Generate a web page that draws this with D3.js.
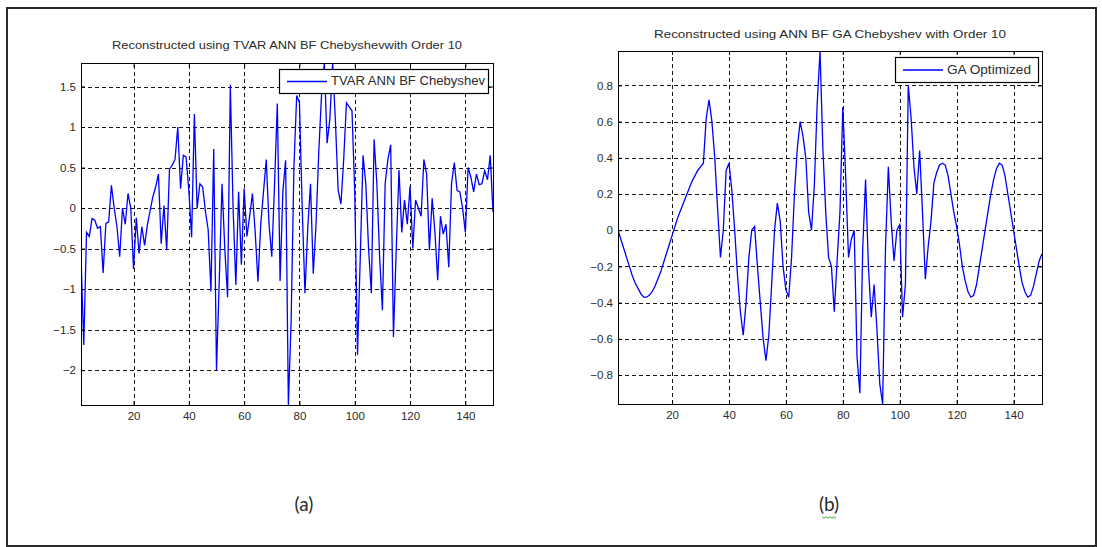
<!DOCTYPE html>
<html>
<head>
<meta charset="utf-8">
<script src="https://cdn.jsdelivr.net/npm/d3@7/dist/d3.min.js"></script>
<style>
  body { margin: 0; background: #fff; }
  svg text { font-family: "Liberation Sans", Arial, Helvetica, sans-serif; fill: #2b2b2b; }
</style>
</head>
<body>
<svg id="fig" width="1102" height="547"></svg>
<script>
// Sample positions shared by both reconstructions
const sampleIndex = d3.range(1, 151);
const xTicks = [20, 40, 60, 80, 100, 120, 140];

// (a) TVAR ANN BF Chebyshev reconstruction
const tvarValues = [
  -0.6, -1.69, -0.3, -0.35, -0.13, -0.15, -0.25, -0.23, -0.8, -0.19,
  -0.17, 0.28, 0.0, -0.23, -0.6, 0.0, -0.2, 0.18, 0.0, -0.75,
  -0.12, -0.56, -0.23, -0.46, -0.21, -0.03, 0.14, 0.26, 0.42, -0.44,
  0.03, -0.52, 0.48, 0.53, 0.6, 1.0, 0.24, 0.65, 0.63, 0.22,
  -0.36, 1.16, 0.0, 0.3, 0.26, -0.04, -0.27, -1.03, 0.73, -2.0,
  -0.9, 0.3, -0.5, -1.1, 1.52, 0.0, -0.95, 0.2, -0.7, 0.24,
  -0.35, -0.1, 0.18, -0.3, -0.91, -0.2, 0.2, 0.6, -0.2, -0.6,
  0.3, 1.29, -0.9, 0.2, 0.59, -2.43, -1.38, 0.5, 1.39, 1.3,
  0.0, -1.05, -0.25, 0.3, -0.81, -0.2, 0.7, 1.4, 1.79, 0.8,
  1.1, 1.79, 1.08, 0.22, 0.05, 0.6, 1.3, 1.25, 1.2, 0.2,
  -1.81, -0.6, 0.65, 0.3, -0.5, -1.05, 0.85, 0.3, -0.6, -1.26,
  0.3, 0.6, 0.78, -1.59, -0.52, 0.47, -0.3, 0.1, -0.2, 0.27,
  -0.5, 0.1, 0.0, -0.1, 0.6, 0.42, -0.52, 0.12, -0.3, -0.89,
  -0.1, -0.32, -0.2, -0.73, 0.3, 0.56, 0.22, 0.2, 0.0, -0.3,
  0.5, 0.38, 0.2, 0.42, 0.29, 0.3, 0.46, 0.35, 0.65, -0.05
];
const tvarTicks = [-2, -1.5, -1, -0.5, 0, 0.5, 1, 1.5];

// (b) GA-optimised ANN BF Chebyshev reconstruction
const gaValues = [
  0.0, -0.05, -0.1, -0.15, -0.2, -0.25, -0.29, -0.32, -0.35, -0.37,
  -0.37, -0.36, -0.34, -0.31, -0.27, -0.23, -0.18, -0.13, -0.08, -0.03,
  0.02, 0.07, 0.11, 0.15, 0.19, 0.23, 0.27, 0.3, 0.33, 0.35,
  0.37, 0.62, 0.72, 0.6, 0.4, 0.12, -0.15, 0.0, 0.33, 0.37,
  0.22, 0.0, -0.25, -0.45, -0.58, -0.4, -0.15, 0.0, 0.02, -0.2,
  -0.4, -0.6, -0.72, -0.58, -0.3, 0.0, 0.15, 0.05, -0.2, -0.33,
  -0.37, -0.15, 0.2, 0.45, 0.6, 0.52, 0.4, 0.1, 0.0, 0.25,
  0.7, 0.99, 0.45, 0.1, -0.15, -0.2, -0.45, -0.17, 0.1, 0.68,
  0.3, -0.15, -0.05, 0.0, -0.7, -0.9, -0.1, 0.28, -0.2, -0.48,
  -0.3, -0.55, -0.85, -0.96, -0.1, 0.35, 0.05, -0.17, 0.0, 0.03,
  -0.48, -0.3, 0.8, 0.62, 0.35, 0.2, 0.44, 0.1, -0.27, -0.09,
  0.05, 0.26, 0.32, 0.36, 0.37, 0.36, 0.3, 0.2, 0.1, 0.02,
  -0.08, -0.2, -0.28, -0.34, -0.37, -0.36, -0.3, -0.2, -0.1, 0.0,
  0.1, 0.2, 0.28, 0.34, 0.37, 0.36, 0.3, 0.2, 0.1, 0.0,
  -0.1, -0.2, -0.29, -0.34, -0.37, -0.36, -0.31, -0.24, -0.17, -0.13
];
const gaTicks = [-0.8, -0.6, -0.4, -0.2, 0, 0.2, 0.4, 0.6, 0.8];

const panels = [
  {
    id: "a", values: tvarValues, yTicks: tvarTicks,
    box: { left: 81, right: 493, top: 63, bottom: 405 },
    title: "Reconstructed using  TVAR ANN BF Chebyshevwith Order 10",
    titleY: 46, titleWidth: 350,
    legend: { label: "TVAR ANN BF Chebyshev", x: 279, y: 69, w: 209, h: 24, textWidth: 154 },
    caption: "(a)", captionX: 304
  },
  {
    id: "b", values: gaValues, yTicks: gaTicks,
    box: { left: 618, right: 1042, top: 51, bottom: 404 },
    title: "Reconstructed using ANN BF GA Chebyshev with Order 10",
    titleY: 35, titleWidth: 352,
    legend: { label: "GA Optimized", x: 895, y: 57, w: 143, h: 25, textWidth: 84 },
    caption: "(b)", captionX: 829
  }
];

const svg = d3.select("#fig");

// outer frame around both figures
svg.append("rect")
  .attr("x", 7).attr("y", 8).attr("width", 1089).attr("height", 538)
  .attr("fill", "#fff").attr("stroke", "#2a2a2a").attr("stroke-width", 2);

panels.forEach(p => {
  const b = p.box;
  const x = d3.scaleLinear().domain([1, 150]).range([b.left, b.right]);
  const y = d3.scaleLinear().domain(d3.extent(p.values)).range([b.bottom, b.top]);
  const g = svg.append("g").attr("class", "panel-" + p.id);

  // dotted grid
  const grid = g.append("g").attr("stroke", "#1a1a1a").attr("stroke-width", 1)
    .attr("stroke-dasharray", "4,3").attr("shape-rendering", "crispEdges");
  grid.selectAll("line.gx").data(xTicks).join("line")
    .attr("x1", d => Math.round(x(d)) + 0.5).attr("x2", d => Math.round(x(d)) + 0.5)
    .attr("y1", b.bottom).attr("y2", b.top);
  grid.selectAll("line.gy").data(p.yTicks).join("line")
    .attr("y1", d => Math.round(y(d)) + 0.5).attr("y2", d => Math.round(y(d)) + 0.5)
    .attr("x1", b.left).attr("x2", b.right);

  // series
  const clipId = "clip-" + p.id;
  g.append("clipPath").attr("id", clipId).append("rect")
    .attr("x", b.left).attr("y", b.top).attr("width", b.right - b.left).attr("height", b.bottom - b.top);
  const line = d3.line().x((d, i) => x(sampleIndex[i])).y(d => y(d));
  g.append("path").datum(p.values)
    .attr("clip-path", `url(#${clipId})`)
    .attr("fill", "none").attr("stroke", "#0000ff").attr("stroke-width", 1.3)
    .attr("stroke-linejoin", "miter").attr("d", line);

  // axes with inward ticks on all four sides
  const tickStyle = sel => {
    sel.select(".domain").remove();
    sel.selectAll(".tick line").attr("stroke", "#000");
    sel.selectAll(".tick text").style("font-size", "11.5px").attr("fill", "#2b2b2b");
  };
  g.append("g").attr("transform", `translate(0,${b.bottom})`)
    .call(d3.axisBottom(x).tickValues(xTicks).tickSize(-4).tickPadding(7).tickFormat(d3.format("d")))
    .call(tickStyle);
  g.append("g").attr("transform", `translate(0,${b.top})`)
    .call(d3.axisTop(x).tickValues(xTicks).tickSize(-4).tickFormat(""))
    .call(tickStyle);
  g.append("g").attr("transform", `translate(${b.left},0)`)
    .call(d3.axisLeft(y).tickValues(p.yTicks).tickSize(-4).tickPadding(5).tickFormat(d => d3.format("")(+d.toFixed(2))))
    .call(tickStyle);
  g.append("g").attr("transform", `translate(${b.right},0)`)
    .call(d3.axisRight(y).tickValues(p.yTicks).tickSize(-4).tickFormat(""))
    .call(tickStyle);
  g.selectAll(".tick text").attr("font-family", null);

  // axes box
  g.append("rect")
    .attr("x", b.left + 0.5).attr("y", b.top + 0.5)
    .attr("width", b.right - b.left).attr("height", b.bottom - b.top)
    .attr("fill", "none").attr("stroke", "#000").attr("stroke-width", 1);

  // title
  g.append("text")
    .attr("x", (b.left + b.right) / 2).attr("y", p.titleY)
    .attr("text-anchor", "middle").attr("dominant-baseline", "middle")
    .attr("textLength", p.titleWidth).attr("lengthAdjust", "spacingAndGlyphs")
    .style("font-size", "11.5px").text(p.title);

  // legend
  const L = p.legend;
  const lg = g.append("g");
  lg.append("rect").attr("x", L.x + 0.5).attr("y", L.y + 0.5).attr("width", L.w).attr("height", L.h)
    .attr("fill", "#fff").attr("stroke", "#000").attr("stroke-width", 1.2);
  lg.append("line")
    .attr("x1", L.x + 8).attr("x2", L.x + 48)
    .attr("y1", L.y + L.h / 2 + 0.5).attr("y2", L.y + L.h / 2 + 0.5)
    .attr("stroke", "#0000ff").attr("stroke-width", 1.3);
  lg.append("text")
    .attr("x", L.x + 52).attr("y", L.y + L.h / 2 + 1)
    .attr("dominant-baseline", "middle")
    .attr("textLength", L.textWidth).attr("lengthAdjust", "spacingAndGlyphs")
    .style("font-size", "12.5px").text(L.label);

  // sub-figure caption
  svg.append("text")
    .attr("x", p.captionX).attr("y", 506)
    .attr("text-anchor", "middle").attr("dominant-baseline", "middle")
    .style("font-family", "Lato, 'Open Sans', sans-serif").style("font-size", "19px")
    .text(p.caption);
});

// spell-check squiggle under the (b) caption
const squiggle = d3.range(0, 8).map(i => [822 + i * 2, 517 + (i % 2 ? 1.2 : -0.2)]);
svg.append("path").attr("d", d3.line()(squiggle))
  .attr("fill", "none").attr("stroke", "#3fae3f").attr("stroke-width", 1);
</script>
</body>
</html>
